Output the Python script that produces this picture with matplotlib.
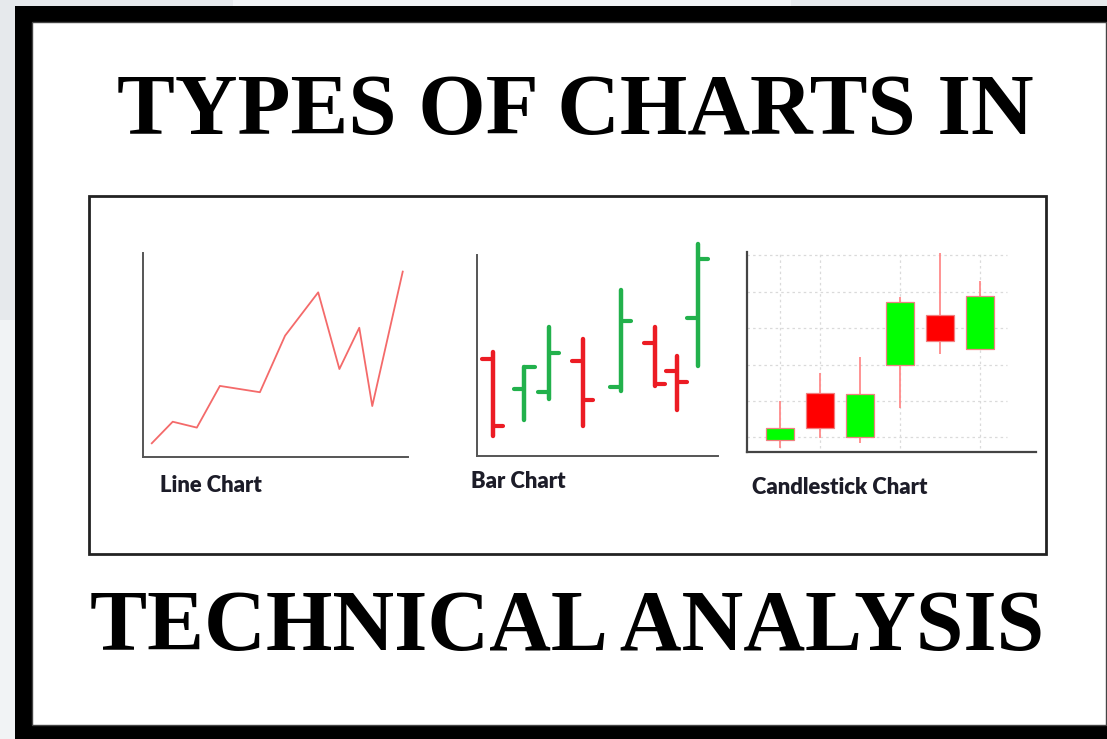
import matplotlib
matplotlib.use('Agg')
import matplotlib.pyplot as plt
from matplotlib.patches import Rectangle

# Dados do gráfico de linha
linha_x = [3.2, 11.1, 20.2, 28.9, 44.0, 53.5, 66.0, 74.0, 81.5, 86.4, 97.9]
linha_y = [6.6, 17.2, 14.3, 34.8, 31.7, 59.5, 80.8, 43.1, 63.4, 24.9, 91.0]

# Dados do gráfico de barras (OHLC)
barras_x = [6.4, 19.6, 29.7, 44.1, 59.8, 73.8, 82.9, 91.9]
barras_open = [48.0, 33.1, 31.9, 47.3, 34.2, 56.3, 42.2, 68.5]
barras_high = [51.8, 44.2, 64.3, 58.1, 82.6, 64.3, 49.7, 105.3]
barras_low = [9.8, 17.6, 28.3, 14.9, 32.2, 34.9, 22.8, 44.8]
barras_close = [14.9, 44.2, 51.0, 27.8, 67.1, 35.7, 36.9, 97.9]

# Dados do gráfico de candlestick
velas_x = [1, 2, 3, 4, 5, 6]
velas_open = [6.1, 29.4, 7.5, 43.5, 68.4, 51.3]
velas_high = [25.6, 39.7, 47.7, 77.6, 99.5, 85.5]
velas_low = [2.0, 7.3, 4.5, 22.2, 49.0, 51.3]
velas_close = [12.0, 12.0, 28.9, 75.1, 55.6, 78.1]
grade_y = [7.5, 25.6, 43.5, 62.1, 80.1, 98.4]
grade_x = [1, 2, 4, 6]

titulo_1 = 'TYPES OF CHARTS IN'
titulo_2 = 'TECHNICAL ANALYSIS'
rotulos = ['Line Chart', 'Bar Chart', 'Candlestick Chart']

W, H = 1107, 739
fig = plt.figure(figsize=(W / 100, H / 100), dpi=100)
fig.patch.set_facecolor('#e6e9ec')


def caixa(x0, y0, x1, y1):
    # converte pixels (origem no topo) em coordenadas de figura
    return [x0 / W, 1 - y1 / H, (x1 - x0) / W, (y1 - y0) / H]


# Fundo, moldura e textos
bg = fig.add_axes([0, 0, 1, 1])
bg.set_xlim(0, W)
bg.set_ylim(H, 0)
bg.axis('off')
bg.add_patch(Rectangle((233, 0), 558, 6, color='#f1f3f5', lw=0))
bg.add_patch(Rectangle((0, 320), 15, H - 320, color='#f1f3f5', lw=0))
bg.add_patch(Rectangle((15, 6), W - 15, H - 6, color='black', lw=0))
bg.add_patch(Rectangle((32, 22), 1074, 703, facecolor='white', edgecolor='#444444', lw=1.0))
bg.add_patch(Rectangle((89, 196), 956.7, 358, facecolor='white', edgecolor='#222222', lw=2.0))

renderer = fig.canvas.get_renderer()
for texto, cx, base, largura in [(titulo_1, 575, 134, 918), (titulo_2, 567, 650, 955)]:
    t = bg.text(cx, base, texto, ha='center', va='baseline', fontsize=60,
                family='Liberation Serif', fontweight='bold', color='black')
    w = t.get_window_extent(renderer).width
    t.set_fontsize(60 * largura / w)

for texto, x, y in zip(rotulos, [160, 471, 752], [486, 482, 487]):
    bg.text(x, y, texto, ha='left', va='center', fontsize=15.8,
            family='Lato', fontweight='heavy', color='#1c1c28')

# Gráfico de linha
ax1 = fig.add_axes(caixa(143.3, 253.3, 408.3, 456.7))
ax1.plot(linha_x, linha_y, color='#f46a6a', lw=1.3)
ax1.set_xlim(0, 100)
ax1.set_ylim(0, 100)

# Gráfico de barras
ax2 = fig.add_axes(caixa(477.3, 255, 717.7, 455.7))
for x, o, h, l, c in zip(barras_x, barras_open, barras_high, barras_low, barras_close):
    cor = '#22b14c' if c > o else '#ec1c24'
    ax2.plot([x, x], [l, h], color=cor, lw=3.2, solid_capstyle='round', clip_on=False)
    ax2.plot([x - 4.5, x], [o, o], color=cor, lw=3.0, solid_capstyle='round', clip_on=False)
    ax2.plot([x, x + 4.2], [c, c], color=cor, lw=3.0, solid_capstyle='round', clip_on=False)
ax2.set_xlim(0, 100)
ax2.set_ylim(0, 100)

# Gráfico de candlestick
ax3 = fig.add_axes(caixa(747.3, 251.7, 1036, 452.3))
ax3.hlines(grade_y, 0.18, 6.67, colors='#dadada', lw=0.9, linestyles=(0, (2, 2.5)), zorder=0.5)
ax3.vlines(grade_x, 2, 100, colors='#dadada', lw=0.9, linestyles=(0, (2, 2.5)), zorder=0.5)
for x, o, h, l, c in zip(velas_x, velas_open, velas_high, velas_low, velas_close):
    cor = '#00ff00' if c > o else '#ff0000'
    ax3.vlines(x, l, h, colors='#ff8a8a', lw=1.3, zorder=2)
    ax3.bar(x, c - o, bottom=o, width=0.68, color=cor, edgecolor='#f08080', lw=0.9, zorder=3)
ax3.set_xlim(0.18, 7.4)
ax3.set_ylim(0, 100)

for ax, cor_eixo, lw in [(ax1, '#555555', 1.4), (ax2, '#555555', 1.4), (ax3, '#444444', 1.6)]:
    ax.patch.set_alpha(0)
    ax.spines['top'].set_visible(False)
    ax.spines['right'].set_visible(False)
    ax.spines['left'].set_color(cor_eixo)
    ax.spines['bottom'].set_color(cor_eixo)
    ax.spines['left'].set_linewidth(lw)
    ax.spines['bottom'].set_linewidth(lw)
    ax.set_xticks([])
    ax.set_yticks([])

plt.savefig('out.png', dpi=100)
